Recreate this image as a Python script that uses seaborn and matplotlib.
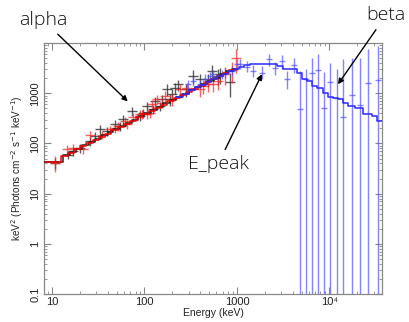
import matplotlib
matplotlib.use("Agg")
import matplotlib.pyplot as plt
import matplotlib.ticker as mticker
import seaborn as sns
import pandas as pd
import numpy as np

# ---------------- data ----------------
# detector 1 (black)
black_E = [10.8, 15.0, 17.0, 20.1, 25.8, 29.2, 33.0, 39.0, 48.0, 54.3, 59.0, 72.8, 89.4, 97.0,
           105.6, 124.6, 130.0, 147.0, 153.5, 173.9, 188.0, 196.8, 213.0, 232.0, 280.0, 337.0,
           398.0, 490.0, 532.0, 628.0, 655.0, 839.0]
black_y = [41, 60, 70, 82, 111, 140, 197, 176, 240, 222, 302, 443, 352, 410,
           557, 479, 701, 557, 759, 1202, 759, 955, 1300, 1500, 1200, 2218,
           1905, 1905, 2793, 2218, 2399, 1700]
black_yerr = [0.25, 0.2, 0.2, 0.2, 0.2, 0.2, 0.2, 0.2, 0.2, 0.2, 0.2, 0.2, 0.2, 0.2,
              0.2, 0.2, 0.2, 0.2, 0.2, 0.25, 0.25, 0.25, 0.25, 0.25, 0.3, 0.3,
              0.3, 0.3, 0.3, 0.35, 0.35, 0.5]
# detector 2 (red)
red_E = [10.8, 14.4, 17.0, 21.8, 25.8, 34.5, 42.4, 48.0, 52.0, 61.6, 64.3, 75.7, 89.4, 93.3,
         105.6, 114.0, 119.6, 135.6, 153.0, 166.7, 196.8, 242.0, 286.0, 398.0, 432.0, 490.0,
         554.0, 628.0, 741.0, 877.0, 972.0]
red_y = [41, 76, 82, 76, 151, 151, 190, 206, 222, 279, 240, 330, 380, 380,
         380, 410, 603, 759, 649, 880, 759, 1202, 1300, 1200, 1400, 1514,
         1514, 1762, 2399, 2900, 5000]
red_yerr = [0.35, 0.2, 0.2, 0.2, 0.2, 0.2, 0.2, 0.2, 0.2, 0.2, 0.2, 0.2, 0.2, 0.2,
            0.2, 0.2, 0.2, 0.2, 0.2, 0.25, 0.25, 0.25, 0.25, 0.3, 0.3, 0.3,
            0.3, 0.35, 0.4, 0.45, 0.5]
# detector 3 (blue, BGO)
blue_E = [298, 334, 398, 451, 511, 550, 684, 742, 877, 993, 1077, 1274, 1500, 1850, 2220, 2575,
          3045, 3500, 4160, 4800, 5570, 6470, 7570, 8790, 10100, 11960, 14100, 17400, 21380,
          26240, 33650]
blue_y = [1514, 1762, 1514, 1967, 2218, 2399, 2399, 2594, 2793, 3800, 3800, 3420, 2790, 2590,
          4790, 3265, 4430, 1905, 3630, 479, 1900, 2590, 2900, 500, 1700, 800, 342, 925, 575,
          1637, 1820]
blue_lo = [1200, 1400, 1200, 1600, 1800, 1950, 1900, 2050, 2200, 2900, 3000, 2600, 2100, 1900,
           3500, 2300, 3100, 1200, 2500, 0.001, 0.001, 0.001, 0.001, 0.001, 0.001, 0.001, 0.001,
           0.001, 0.001, 0.001, 0.001]
blue_hi = [1850, 2150, 1850, 2400, 2700, 2900, 2950, 3200, 3500, 4800, 4800, 4400, 3700, 3500,
           6000, 4300, 5900, 2800, 5000, 2790, 3000, 5000, 6000, 2600, 4000, 3000, 4800, 5000,
           5000, 7600, 8600]

# model (folded) step lines: bin edges and values
black_edges = [8.2, 13.2, 15.6, 18, 21, 25, 29, 34, 40, 46, 54, 63, 73, 85, 100, 117, 137, 160,
               187, 220, 257, 300, 350, 410, 480, 560, 650, 760, 890, 1000]
black_model = [43, 59, 69, 79, 92, 107, 124, 145, 167, 194, 224, 259, 298, 347, 404, 469, 543,
               630, 733, 853, 988, 1143, 1327, 1542, 1786, 2061, 2410, 2750, 3100]
red_edges = [8.5, 12.6, 14.9, 17.3, 20.2, 23.6, 27.6, 32.2, 37.6, 43.9, 51.2, 59.8, 69.8, 81.5,
             95.1, 111, 130, 151, 177, 206, 241, 281, 328, 383, 447, 522, 609, 711, 830, 960]
red_model = [43, 57, 66, 76, 88, 102, 119, 137, 158, 185, 213, 246, 286, 332, 384, 444, 514,
             596, 690, 800, 925, 1070, 1240, 1430, 1660, 1920, 2220, 2560, 2950]
blue_edges = [220, 260, 300, 350, 400, 460, 530, 610, 700, 800, 920, 1060, 1200, 1384, 2685,
              3168, 4420, 5000, 5670, 6425, 7280, 8580, 9710, 10990, 12450, 14100, 15960,
              18870, 23200, 28560, 32370, 38000]
blue_model = [855, 990, 1143, 1310, 1490, 1700, 1940, 2200, 2480, 2780, 3100, 3350, 3600, 3800,
              3516, 3119, 2594, 1905, 1762, 1400, 1262, 1033, 851, 820, 759, 649, 557, 516,
              380, 352, 279]

x_ticks = [10, 100, 1000, 10000]
x_ticklabels = ["10", "100", "1000", "10\u2074"]
y_ticks = [0.1, 1, 10, 100, 1000]
y_ticklabels = ["0.1", "1", "10", "100", "1000"]

# ---------------- plot ----------------
sns.set_theme(style="ticks")
plt.rcParams['font.family'] = ['Liberation Sans', 'DejaVu Sans']

fig = plt.figure(figsize=(4.09, 3.22), dpi=100)
ax = fig.add_axes([0.1076, 0.087, 0.8264, 0.779])
ax.set_xscale('log')
ax.set_yscale('log')


def crosses(E, y, ylo, yhi, color, lw=1.0, alpha=0.75, xw=1.13):
    E = np.asarray(E, float)
    y = np.asarray(y, float)
    xerr = [E - E / xw, E * xw - E]
    yerr = [y - np.asarray(ylo, float), np.asarray(yhi, float) - y]
    ax.errorbar(E, y, xerr=xerr, yerr=yerr, fmt='none', ecolor=color, elinewidth=lw,
                alpha=alpha, capsize=0, zorder=2)


def steps(edges, vals, color, lw=1.1):
    df = pd.DataFrame({"E": edges, "v": list(vals) + [vals[-1]]})
    sns.lineplot(data=df, x="E", y="v", drawstyle="steps-post", color=color, lw=lw,
                 estimator=None, sort=False, ax=ax, zorder=3)


by = np.asarray(black_y, float); bf = np.asarray(black_yerr)
ry = np.asarray(red_y, float); rf = np.asarray(red_yerr)
crosses(black_E, black_y, by * (1 - bf), by * (1 + bf), '#333333', alpha=0.8)
crosses(red_E, red_y, ry * (1 - rf), ry * (1 + rf), '#ff2020', alpha=0.7)
crosses(blue_E, blue_y, blue_lo, blue_hi, '#5050ff', alpha=0.7, xw=1.08)

steps(black_edges, black_model, '#222222')
steps(red_edges, red_model, '#ee0000')
steps(blue_edges, blue_model, '#2a2aff')

ax.set_xlim(8.2, 37000)
ax.set_ylim(0.1, 1e4)
ax.xaxis.set_major_locator(mticker.FixedLocator(x_ticks))
ax.xaxis.set_major_formatter(mticker.FixedFormatter(x_ticklabels))
ax.xaxis.set_minor_locator(mticker.LogLocator(base=10, subs=np.arange(2, 10)))
ax.xaxis.set_minor_formatter(mticker.NullFormatter())
ax.yaxis.set_major_locator(mticker.FixedLocator(y_ticks))
ax.yaxis.set_major_formatter(mticker.FixedFormatter(y_ticklabels))
ax.yaxis.set_minor_locator(mticker.LogLocator(base=10, subs=np.arange(2, 10)))
ax.yaxis.set_minor_formatter(mticker.NullFormatter())

for lab in ax.get_yticklabels():
    lab.set_rotation(90)
    lab.set_va('center')

ax.tick_params(which='both', direction='in', top=True, right=True, color='#888888',
               labelsize=8, labelcolor='#222222', pad=2.5)
ax.tick_params(which='major', length=5, width=0.8)
ax.tick_params(which='minor', length=2.5, width=0.6)
for s in ax.spines.values():
    s.set_color('#888888')
    s.set_linewidth(0.9)

ax.set_xlabel("Energy (keV)", fontsize=7.5, labelpad=0.5, color='#222222')
ax.set_ylabel("keV$^2$ (Photons cm$^{-2}$ s$^{-1}$ keV$^{-1}$)", fontsize=7.2, labelpad=4,
              color='#222222')

afont = dict(fontsize=14, family=['Open Sans', 'DejaVu Sans'], fontweight='light', color='#111111')
arrow = dict(arrowstyle='-|>', color='black', lw=1.0, mutation_scale=8, shrinkA=2, shrinkB=0)
ax.annotate("alpha", xy=(66, 690), xytext=(0.105, 0.938), textcoords='figure fraction',
            ha='center', va='center', arrowprops=arrow, annotation_clip=False, **afont)
ax.annotate("E_peak", xy=(1860, 2400), xytext=(0.533, 0.49), textcoords='figure fraction',
            ha='center', va='center', arrowprops=arrow, annotation_clip=False, **afont)
ax.annotate("beta", xy=(12360, 1514), xytext=(0.944, 0.953), textcoords='figure fraction',
            ha='center', va='center', arrowprops=arrow, annotation_clip=False, **afont)

fig.savefig("out.png", dpi=100)
